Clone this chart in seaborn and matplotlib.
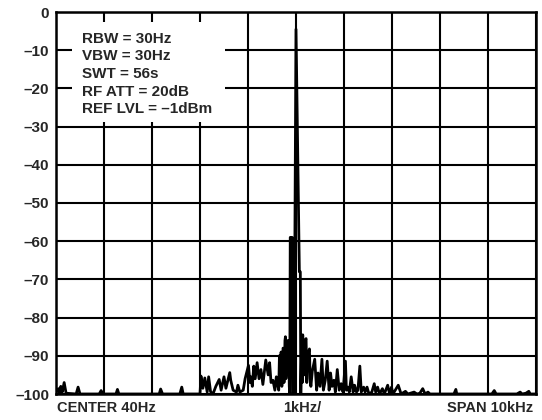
import matplotlib
matplotlib.use("Agg")
import matplotlib.pyplot as plt
import matplotlib.patches as mpatches
import pandas as pd
import seaborn as sns

# spectrum trace, offset from center in kHz and level in dB
freq_khz = [-5.00, -4.95, -4.93, -4.90, -4.87, -4.83, -4.79, -4.58, -4.54, -4.50,
            -4.10, -4.06, -4.02, -3.75, -3.72, -3.69, -2.85, -2.82, -2.78, -2.42,
            -2.38, -2.35, -2.00, -1.98, -1.94, -1.90, -1.85, -1.82, -1.78, -1.73,
            -1.67, -1.60, -1.56, -1.50, -1.46, -1.38, -1.36, -1.31, -1.24, -1.21,
            -1.17, -1.10, -1.06, -0.99, -0.96, -0.94, -0.91, -0.88, -0.85, -0.81,
            -0.77, -0.73, -0.69, -0.63, -0.58, -0.55, -0.52, -0.48, -0.44, -0.41,
            -0.36, -0.345, -0.33, -0.31, -0.295, -0.28, -0.27, -0.26, -0.25, -0.24,
            -0.23, -0.22, -0.21, -0.19, -0.17, -0.15, -0.14,
            -0.13, -0.12, -0.08, -0.07, -0.04, 0.00, 0.07, 0.09, 0.10, 0.12,
            0.13, 0.14, 0.155, 0.17, 0.19, 0.21, 0.225, 0.24, 0.26, 0.28,
            0.295, 0.31, 0.34, 0.39, 0.43, 0.46, 0.50,
            0.54, 0.57, 0.61, 0.65, 0.69, 0.72, 0.75, 0.79, 0.82, 0.86,
            0.90, 0.94, 0.98, 1.03, 1.05, 1.08, 1.11, 1.15, 1.19, 1.22,
            1.26, 1.29, 1.33, 1.36, 1.41, 1.44, 1.48, 1.52, 1.58, 1.63,
            1.66, 1.70, 1.74, 1.80, 1.84, 1.91, 1.95, 1.99, 2.02, 2.13,
            2.19, 2.28, 2.33, 2.46, 2.52, 2.58, 2.64, 2.69, 2.75, 2.79,
            3.29, 3.33, 3.35, 4.08, 4.13, 4.17, 4.60, 4.67, 4.71, 4.79,
            4.85, 4.88, 5.00]
level_db = [-99.5, -98.6, -100, -98.0, -99.5, -97.0, -99.8, -100, -98.2, -100,
            -100, -99.1, -100, -100, -98.8, -100, -100, -98.7, -100, -100,
            -98.2, -100, -100, -95.3, -98.5, -95.8, -99.5, -95.5, -99.4, -100,
            -98.0, -96.2, -99.0, -95.5, -98.5, -94.4, -96.4, -99.0, -99.5, -97.7,
            -99.5, -99.0, -96.0, -92.5, -97.0, -95.5, -98.0, -92.7, -96.0, -91.8,
            -96.0, -93.6, -97.5, -91.1, -95.0, -91.8, -97.0, -96.4, -99.0, -95.5,
            -99.0, -90.0, -97.3, -89.0, -98.0, -95.0, -88.0, -88.2, -97.0, -93.0,
            -86.0, -85.0, -96.0, -92.0, -86.0, -87.3, -98.0,
            -100, -59.0, -59.0, -100, -100, -4.5, -68.0, -68.0, -100, -86.0,
            -97.0, -84.5, -90.0, -95.0, -86.0, -85.5, -97.0, -92.0, -89.0, -88.2,
            -96.0, -98.0, -94.0, -90.9, -99.0, -94.5, -98.0,
            -90.9, -99.0, -96.4, -91.4, -99.0, -94.5, -98.0, -96.4, -99.5, -93.6,
            -99.0, -97.3, -99.5, -91.4, -99.0, -98.2, -99.5, -95.5, -99.5, -97.7,
            -99.5, -99.0, -92.7, -99.5, -98.2, -99.5, -98.2, -100, -99.5, -97.3,
            -99.5, -98.2, -100, -98.6, -100, -97.7, -100, -98.2, -100, -97.7,
            -100, -99.3, -100, -99.5, -100, -99.8, -98.6, -100, -99.5, -100,
            -100, -98.8, -100, -100, -99.1, -100, -100, -99.5, -100, -99.8,
            -99.3, -100, -100]

y_ticks = [0, -10, -20, -30, -40, -50, -60, -70, -80, -90, -100]
y_labels = ["0", "–10", "–20", "–30", "–40", "–50", "–60", "–70", "–80", "–90", "–100"]
x_ticks = [-5, -4, -3, -2, -1, 0, 1, 2, 3, 4, 5]
info_lines = ["RBW = 30Hz", "VBW = 30Hz", "SWT = 56s", "RF ATT = 20dB", "REF LVL = –1dBm"]
bottom_left = "CENTER 40Hz"
bottom_mid = "1kHz/"
bottom_right = "SPAN 10kHz"

sns.set_style("white")
plt.rcParams['font.family'] = ['Liberation Sans', 'DejaVu Sans']
plt.rcParams['font.weight'] = 'bold'

fig = plt.figure(figsize=(5.42, 4.20), dpi=100)
ax = fig.add_axes([56 / 542, 1 - 394 / 420, 480 / 542, 382 / 420])

trace = pd.DataFrame({"freq": freq_khz, "level": level_db})
sns.lineplot(data=trace, x="freq", y="level", sort=False, estimator=None,
             color="black", linewidth=2.0, ax=ax, zorder=3)

ax.set_xlim(-5, 5)
ax.set_ylim(-100, 0)
ax.set_xticks(x_ticks)
ax.set_xticklabels([])
ax.set_yticks(y_ticks)
ax.set_yticklabels(y_labels, fontsize=11, fontweight="bold")
ax.tick_params(length=0, pad=5)
ax.grid(True, color="black", linewidth=1.5)
ax.set_axisbelow(True)
ax.set_xlabel("")
ax.set_ylabel("")
for sp in ax.spines.values():
    sp.set_color("black")
    sp.set_linewidth(1.8)

# white box with the analyzer settings
ax.add_patch(mpatches.Rectangle((0.033, 0.712), 0.319, 0.262, transform=ax.transAxes,
                                facecolor="white", edgecolor="none", zorder=2))
ax.text(0.054, 0.948, "\n".join(info_lines), transform=ax.transAxes, ha="left", va="top",
        fontsize=11, fontweight="bold", linespacing=1.33, zorder=4)

fig.text(57 / 542, 1 - 408 / 420, bottom_left, ha="left", va="center", fontsize=10.5, fontweight="bold")
fig.text(302 / 542, 1 - 408 / 420, bottom_mid, ha="center", va="center", fontsize=10.5, fontweight="bold")
fig.text(533 / 542, 1 - 408 / 420, bottom_right, ha="right", va="center", fontsize=10.5, fontweight="bold")

fig.savefig("out.png", dpi=100)
